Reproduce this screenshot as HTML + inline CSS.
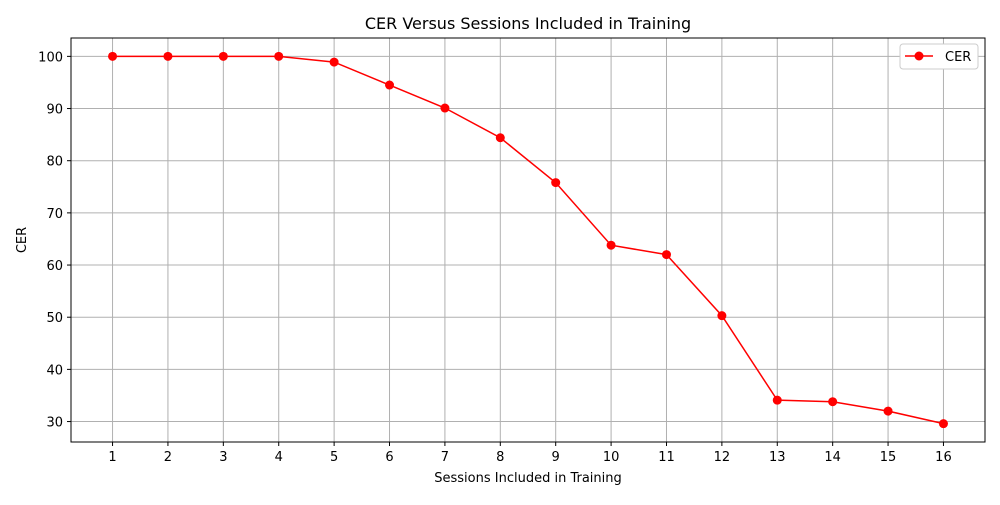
<!DOCTYPE html>
<html><head><meta charset="utf-8"><style>
html,body{margin:0;padding:0;background:#fff;}
svg text{font-family:"DejaVu Sans","Liberation Sans",sans-serif;fill:#000;}
</style></head><body>
<svg id="chart" width="1000" height="500" xmlns="http://www.w3.org/2000/svg">
<text x="528" y="29" font-size="16" text-anchor="middle">CER Versus Sessions Included in Training</text>
<g id="grid"></g>
<g id="ticks"></g>
<g id="series"></g>
<rect x="71" y="38" width="914" height="404" fill="none" stroke="#000" stroke-width="1"/>
<text x="528" y="482" font-size="13" text-anchor="middle">Sessions Included in Training</text>
<text x="26" y="240" font-size="13" text-anchor="middle" transform="rotate(-90 26 240)">CER</text>
<g>
<rect x="900" y="44" width="78" height="25" rx="3" fill="#fff" stroke="#ccc"/>
<line x1="905" y1="56" x2="933" y2="56" stroke="red" stroke-width="1.5"/>
<circle cx="919" cy="56" r="4.5" fill="red"/>
<text x="945" y="61" font-size="13">CER</text>
</g>
</svg>
<script>
const sessions=[1,2,3,4,5,6,7,8,9,10,11,12,13,14,15,16];
const cer=[100,100,100,100,98.9,94.5,90.1,84.4,75.8,63.8,62.0,50.3,34.1,33.8,32.0,29.6];
const yTicks=[30,40,50,60,70,80,90,100];
const NS="http://www.w3.org/2000/svg";
const L=71,R=985,T=38,B=442;
const xmin=0.25,xmax=16.75,ymin=26.08,ymax=103.52;
const xs=v=>L+(v-xmin)/(xmax-xmin)*(R-L);
const ys=v=>B-(v-ymin)/(ymax-ymin)*(B-T);
const grid=document.getElementById('grid'),ticks=document.getElementById('ticks'),ser=document.getElementById('series');
function mk(tag,attrs,parent){const e=document.createElementNS(NS,tag);for(const k in attrs)e.setAttribute(k,attrs[k]);parent.appendChild(e);return e;}
sessions.forEach(s=>{
 const x=xs(s);
 const g=mk('line',{x1:x,x2:x,y1:T,y2:B,stroke:'#b0b0b0','stroke-width':1},grid);
 
 
 mk('line',{x1:x,x2:x,y1:B,y2:B+4,stroke:'#000'},ticks);
 const t=mk('text',{x:x,y:B+19,'font-size':13,'text-anchor':'middle'},ticks);t.textContent=s;
 
 
});
yTicks.forEach(v=>{
 const y=ys(v);
 const g=mk('line',{x1:L,x2:R,y1:y,y2:y,stroke:'#b0b0b0','stroke-width':1},grid);
 
 
 mk('line',{x1:L-4,x2:L,y1:y,y2:y,stroke:'#000'},ticks);
 const t=mk('text',{x:L-8,y:y+5,'font-size':13,'text-anchor':'end'},ticks);t.textContent=v;
 
 
});
const pts=sessions.map((s,i)=>xs(s)+','+ys(cer[i])).join(' ');
const pl=mk('polyline',{points:pts,fill:'none',stroke:'red','stroke-width':1.5},ser);


sessions.forEach((s,i)=>{
 const c=mk('circle',{cx:xs(s),cy:ys(cer[i]),r:4.5,fill:'red'},ser);
 
 
});
</script>
</body></html>
